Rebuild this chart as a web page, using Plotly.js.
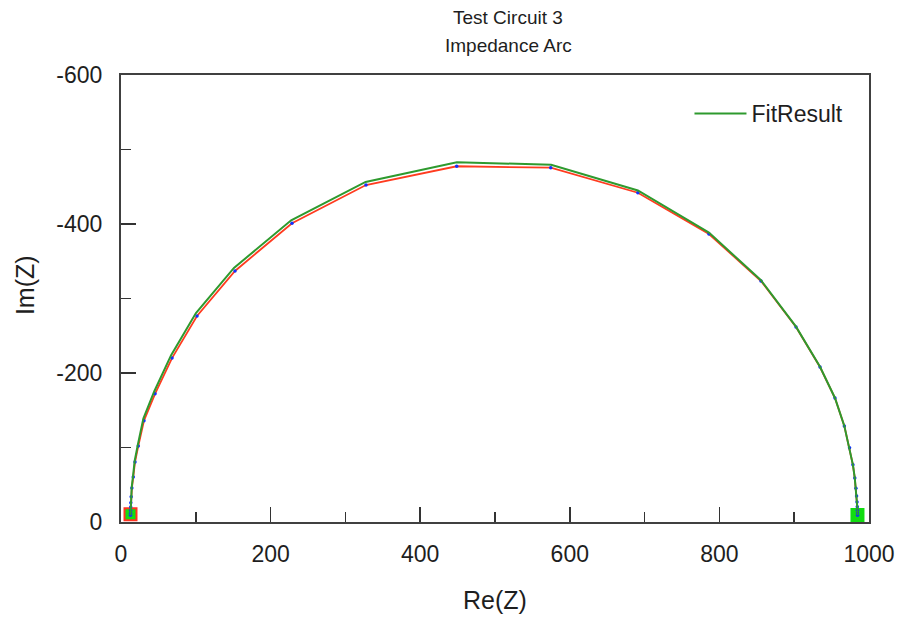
<!DOCTYPE html>
<html>
<head>
<meta charset="utf-8">
<script src="https://cdn.plot.ly/plotly-3.0.1.min.js"></script>
<style>html,body{margin:0;padding:0;background:#fff;}#chart{width:898px;height:618px;}</style>
</head>
<body>
<div id="chart"></div>
<script>
// Measured data (Re(Z), Im(Z))
const dataRe = [12.7, 12.8, 12.9, 13.0, 13.1, 13.6, 14.5, 16.4, 18.7, 23.1, 30.7, 45.5, 68.2, 101.6, 152.4, 228.6, 327.5, 448.8, 574.5, 691.0, 786.0, 855.6, 902.4, 934.5, 954.5, 967.0, 974.0, 978.5, 981.0, 982.5, 983.4, 984.0, 984.3, 984.5, 984.6, 984.7];
const dataIm = [-9.0, -11.7, -15.4, -20.0, -26.0, -34.0, -45.6, -60.4, -80.5, -102.0, -136.0, -172.0, -220.0, -276.5, -337.0, -401.0, -452.3, -477.5, -475.6, -442.0, -386.6, -323.5, -261.7, -208.0, -166.4, -129.0, -99.5, -76.7, -59.0, -45.4, -34.8, -26.7, -20.5, -15.7, -12.0, -9.0];
// Fit result
const fitRe = [12.7, 12.8, 12.9, 13.0, 13.1, 13.4, 14.3, 16.1, 18.3, 22.6, 29.9, 44.4, 67.0, 100.2, 151.0, 227.5, 327.0, 449.0, 575.0, 691.0, 786.0, 855.6, 902.4, 934.5, 954.5, 967.0, 974.0, 978.5, 981.0, 982.5, 983.4, 984.0, 984.3, 984.5, 984.6, 984.7];
const fitIm = [-9.0, -11.7, -15.4, -20.0, -26.0, -34.5, -46.5, -61.8, -82.2, -104.2, -138.8, -175.2, -224.0, -280.5, -341.0, -405.0, -456.5, -483.0, -479.5, -445.0, -388.5, -324.5, -262.2, -208.3, -166.5, -129.0, -99.5, -76.7, -59.0, -45.4, -34.8, -26.7, -20.5, -15.7, -12.0, -9.0];
// Fit range end markers
const endRe = [12.7, 984.6];
const endIm = [-10.5, -9.5];
const xTickVals = [0, 200, 400, 600, 800, 1000];
const xTickText = ['0', '200', '400', '600', '800', '1000'];
const yTickVals = [0, -200, -400, -600];
const yTickText = ['0', '-200', '-400', '-600'];

const FONT = 'Liberation Sans, Arial, sans-serif';
const TXT = '#1e1e1e';

const traces = [
  {x: endRe, y: endIm, mode: 'markers', type: 'scatter', showlegend: false, hoverinfo: 'skip',
   marker: {symbol: 'square', size: 12, color: '#11dd11', line: {color: ['#ff3322', '#11dd11'], width: 2}}},
  {x: dataRe, y: dataIm, mode: 'lines+markers', type: 'scatter', name: 'Data', showlegend: false,
   line: {color: '#ff3b1f', width: 1.8}, marker: {color: '#1030ff', size: 3.5}},
  {x: fitRe, y: fitIm, mode: 'lines', type: 'scatter', name: 'FitResult',
   line: {color: '#2e9a2e', width: 2}}
];

const axisCommon = {
  showgrid: false, zeroline: false, ticks: 'inside', ticklen: 15, tickwidth: 1.5, tickcolor: '#333',
  showline: true, mirror: true, linecolor: '#404040', linewidth: 2,
  tickfont: {family: FONT, size: 23, color: TXT},
  minor: {ticks: 'inside', ticklen: 10, tickwidth: 1.5, tickcolor: '#333', dtick: 100, showgrid: false}
};

const layout = {
  width: 898, height: 618,
  margin: {l: 121, r: 29, t: 75, b: 96},
  paper_bgcolor: '#fff', plot_bgcolor: '#fff',
  font: {family: FONT, color: TXT},
  showlegend: true,
  legend: {x: 0.76, xanchor: 'left', y: 0.962, yanchor: 'top', bgcolor: 'rgba(0,0,0,0)', itemwidth: 52,
           font: {family: FONT, size: 23, color: TXT}},
  xaxis: Object.assign({}, axisCommon, {range: [0, 1000], tickvals: xTickVals, ticktext: xTickText, ticklabelstandoff: 10}),
  yaxis: Object.assign({}, axisCommon, {range: [0, -600], tickvals: yTickVals, ticktext: yTickText, ticklabelstandoff: 12}),
  annotations: [
    {text: 'Test Circuit 3', xref: 'paper', yref: 'paper', x: 0.5174, y: 1.1297, xanchor: 'center', yanchor: 'middle', showarrow: false, font: {family: FONT, size: 19, color: TXT}},
    {text: 'Impedance Arc', xref: 'paper', yref: 'paper', x: 0.5174, y: 1.067, xanchor: 'center', yanchor: 'middle', showarrow: false, font: {family: FONT, size: 19, color: TXT}},
    {text: 'Re(Z)', xref: 'paper', yref: 'paper', x: 0.5, y: -0.1745, xanchor: 'center', yanchor: 'middle', showarrow: false, font: {family: FONT, size: 25, color: TXT}},
    {text: 'Im(Z)', xref: 'paper', yref: 'paper', x: -0.1283, y: 0.53, xanchor: 'center', yanchor: 'middle', textangle: -90, showarrow: false, font: {family: FONT, size: 25, color: TXT}}
  ]
};

Plotly.newPlot('chart', traces, layout, {displayModeBar: false, staticPlot: true});
</script>
</body>
</html>
